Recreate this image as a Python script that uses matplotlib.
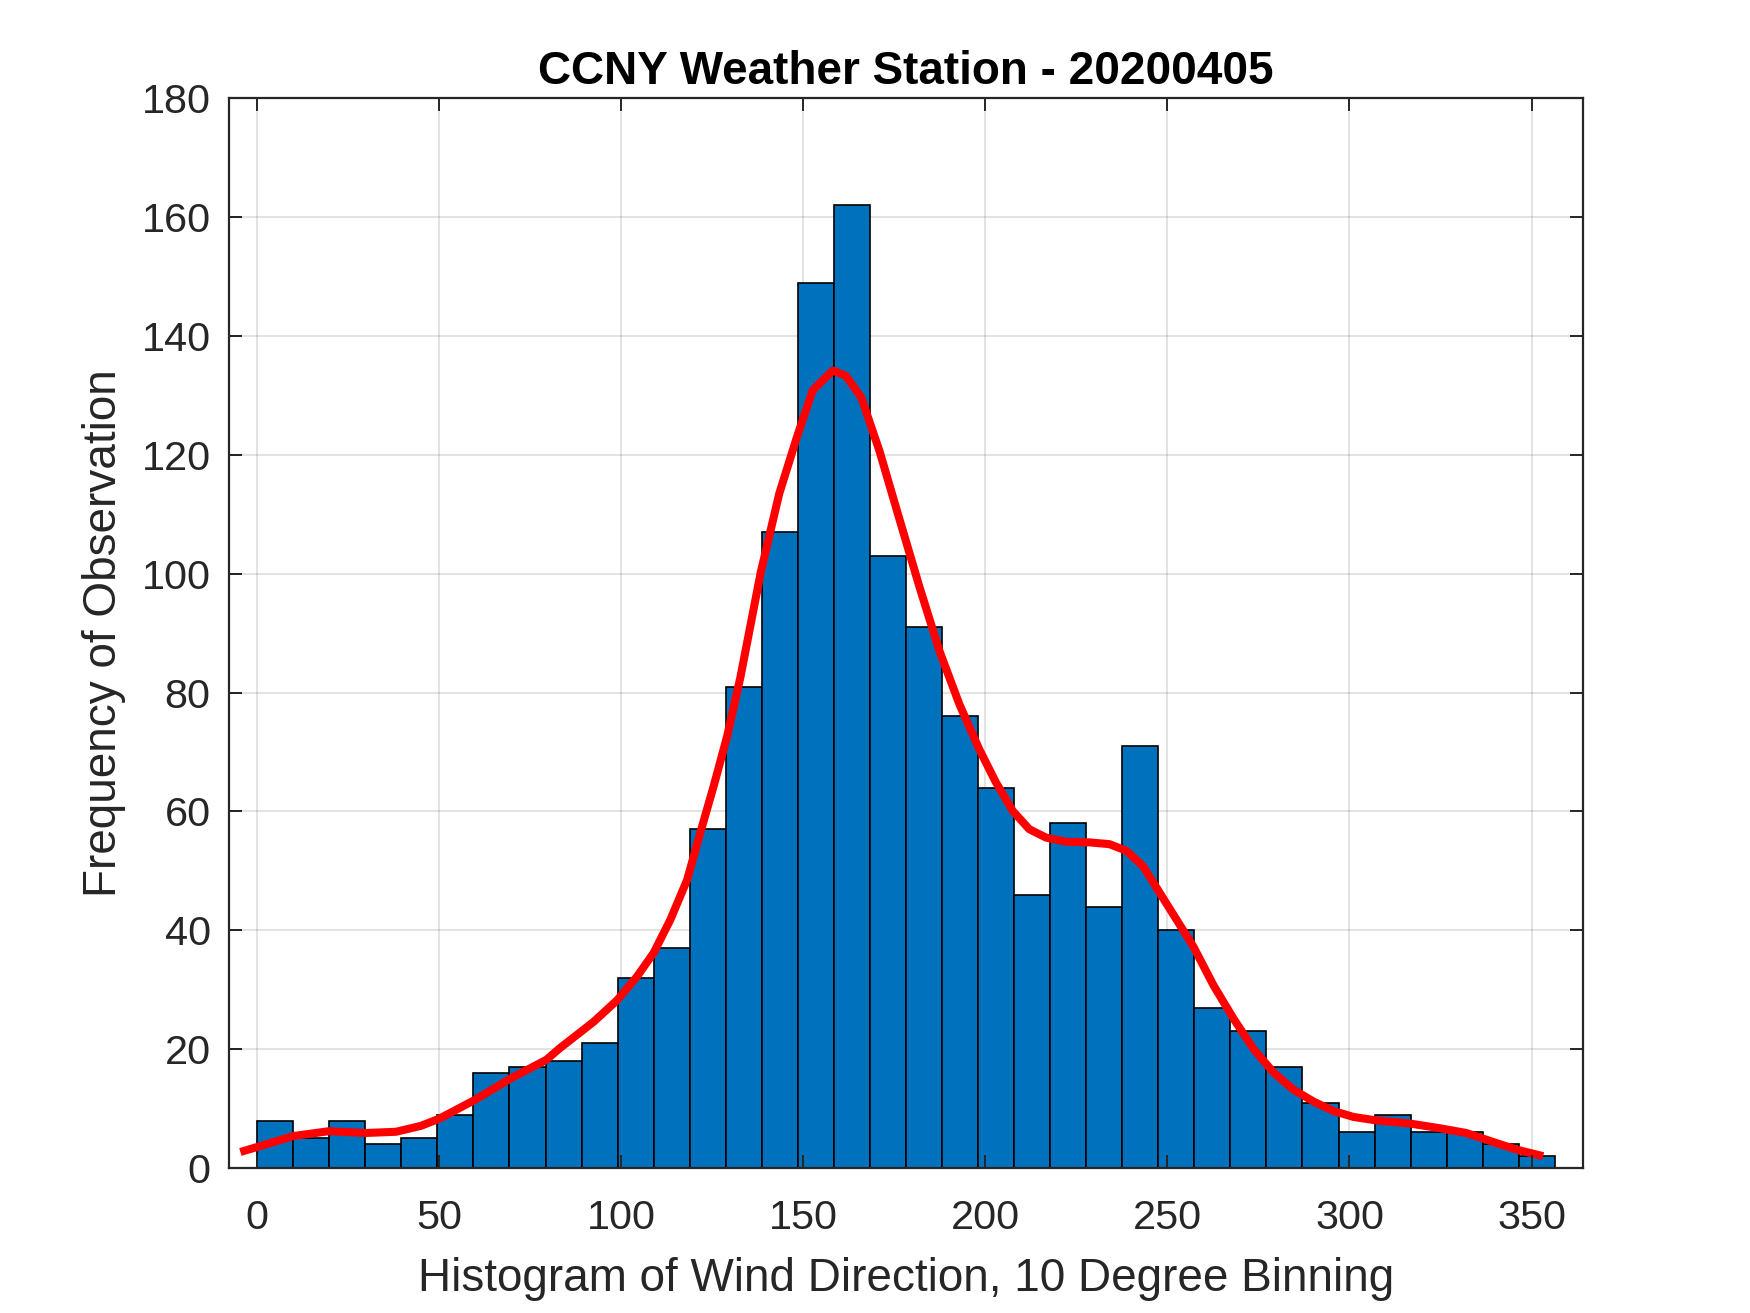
import numpy as np
import matplotlib
matplotlib.use("Agg")
import matplotlib.pyplot as plt

# ---- data ----
bin_start = 0.0
bin_width = 9.9
counts = [8, 5, 8, 4, 5, 9, 16, 17, 18, 21,
          32, 37, 57, 81, 107, 149, 162, 103, 91, 76,
          64, 46, 58, 44, 71, 40, 27, 23, 17, 11,
          6, 9, 6, 6, 4, 2]

curve_x = [-4.6, 1.4, 10.1, 19.7, 29.8, 38.1, 45, 50, 59.6, 69.7,
           79.4, 83.2, 92.4, 98.8, 104.3, 108.9, 113.5, 118.1, 121.7, 125.4,
           129.1, 132.7, 138.3, 143.4, 148.3, 152.6, 158.1, 161.7, 165.9, 170.9,
           176.4, 181.9, 187.4, 192.9, 198.3, 202.9, 207.5, 212.1, 216.7, 222.2,
           228.6, 234.1, 238.7, 243.3, 247.9, 252.5, 257.1, 262.7, 268.2, 273.7,
           279.1, 284.6, 290.1, 295.6, 301.1, 307.5, 316.5, 324.8, 332.1, 339.4,
           345.9, 353.2]
curve_y = [2.7, 3.8, 5.4, 6.2, 5.9, 6.1, 7.1, 8.3, 11.4, 15.1,
           18.2, 20.2, 24.6, 28.2, 32.2, 36.2, 41.8, 48.5, 56.4, 64.3,
           72.7, 82.5, 100.2, 113.5, 123.1, 130.9, 134.2, 133.3, 129.7, 120.7,
           109.2, 97.8, 87, 78, 70.5, 64.9, 60.1, 57.0, 55.6, 54.9,
           54.8, 54.5, 53.4, 50.8, 46.3, 41.8, 37.3, 30.7, 25.1, 20,
           16.1, 13.2, 11.2, 9.6, 8.6, 8.0, 7.5, 6.7, 5.9, 4.4,
           3.1, 2.0]

x_ticks = [0, 50, 100, 150, 200, 250, 300, 350]
y_ticks = [0, 20, 40, 60, 80, 100, 120, 140, 160, 180]

title = "CCNY Weather Station - 20200405"
xlabel = "Histogram of Wind Direction, 10 Degree Binning"
ylabel = "Frequency of Observation"

# ---- style ----
plt.rcParams['font.family'] = ['Liberation Sans', 'DejaVu Sans']
axcol = '#262626'

fig = plt.figure(figsize=(8.75, 6.565), dpi=200)
pos = [0.1307, 0.1104, 0.774, 0.8147]
ax = fig.add_axes(pos)

edges = bin_start + bin_width * np.arange(len(counts) + 1)
ax.bar(edges[:-1], counts, width=bin_width, align='edge',
       color='#0072BD', edgecolor='black', linewidth=0.6, zorder=1)
ax.plot(curve_x, curve_y, color='#FF0000', linewidth=2.9, zorder=3,
        solid_joinstyle='round', solid_capstyle='butt')

ax.set_xlim(-7.8, 364.2)
ax.set_ylim(0, 180)
ax.set_xticks(x_ticks)
ax.set_yticks(y_ticks)
ax.set_axisbelow(True)
ax.grid(True, color='#262626', alpha=0.15, linewidth=0.6)
ax.tick_params(axis='both', which='both', direction='in', length=4.8,
               width=0.7, colors=axcol, labelsize=14.9, top=False, right=False)
ax.tick_params(axis='x', pad=11.3)
ax.tick_params(axis='y', pad=6.5)
for s in ax.spines.values():
    s.set_visible(False)

ax.set_title(title, fontsize=16.5, fontweight='bold', color='black', pad=5)
ax.set_xlabel(xlabel, fontsize=16.5, color=axcol, labelpad=7)
ax.set_ylabel(ylabel, fontsize=16.5, color=axcol, labelpad=5.6)

# overlay axes for box and ticks drawn above the bars
ov = fig.add_axes(pos, sharex=ax, sharey=ax)
ov.set_facecolor('none')
ov.patch.set_visible(False)
ov.grid(False)
ov.tick_params(axis='both', which='both', direction='in', length=4.8,
               width=0.7, colors=axcol, labelbottom=False, labelleft=False,
               top=True, right=True)
for s in ov.spines.values():
    s.set_color(axcol)
    s.set_linewidth(0.8)

fig.savefig('out.png', dpi=200)
